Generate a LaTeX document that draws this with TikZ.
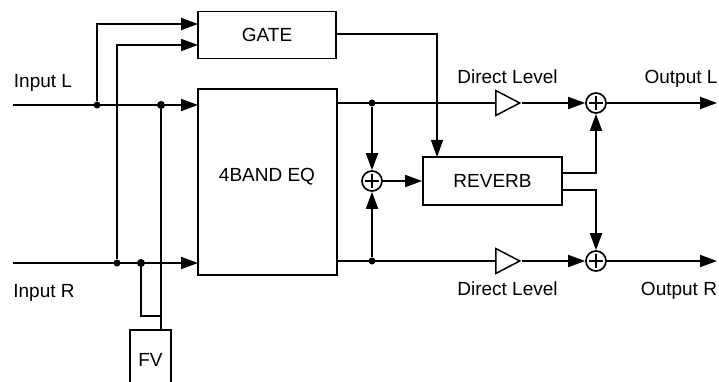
\documentclass[tikz,border=0pt]{standalone}
\usepackage{fontspec}
\setmainfont{Liberation Sans}
\usetikzlibrary{arrows.meta,shapes.geometric}
\tikzset{
  lbl/.style = {inner sep=0pt, anchor=base, font=\fontsize{19}{21}\selectfont},
  block/.style = {draw, line width=1.7pt, fill=white, inner sep=0pt, font=\fontsize{19}{21}\selectfont},
  wire/.style = {line width=1.8pt},
  sig/.style = {line width=1.8pt, -{Triangle[length=17pt,width=12pt]}},
  jdot/.style = {circle, fill=black, inner sep=0pt, minimum size=#1},
  jdot/.default={8pt},
  amp/.style = {isosceles triangle, isosceles triangle stretches, draw, line width=1.5pt,
    shape border rotate=0, inner sep=0pt, minimum width=25pt, minimum height=24pt, anchor=lower side},
  sumnode/.style = {circle, draw, line width=1.7pt, fill=white, inner sep=0pt, minimum size=20pt,
    path picture={
      \draw[line width=1.7pt] (path picture bounding box.center) +(-7pt,0) -- +(7pt,0);
      \draw[line width=1.7pt] (path picture bounding box.center) +(0,-7pt) -- +(0,7pt);
    }}
}
\begin{document}
\begin{tikzpicture}[x=1pt,y=-1pt]
  \useasboundingbox (0,0) rectangle (719,382);

  \node[block, minimum width=138pt, minimum height=47pt] (gate) at (267,35) {GATE};
  \node[block, minimum width=139pt, minimum height=186pt] (eq) at (267.5,182) {};
  \node[lbl] (eqtext) at (267,181) {4BAND EQ};
  \node[block, minimum width=139pt, minimum height=48pt] (reverb) at (492.5,181) {REVERB};
  \node[block, minimum width=41pt, minimum height=60pt, text depth=0pt] (fv) at (150.5,360) {FV};

  \coordinate (inL) at (13,105);
  \coordinate (inR) at (13,263);
  \coordinate (eqL) at (198,105);
  \coordinate (eqR) at (198,263);
  \coordinate (gateA) at (198,24);
  \coordinate (gateB) at (198,45);
  \coordinate (fvjoin) at (161,316);
  \coordinate (fvin) at (161,330);
  \coordinate (eqoutL) at (337,103);
  \coordinate (eqoutR) at (337,261);
  \coordinate (gateout) at (336,34);
  \coordinate (revin) at (437,157);
  \coordinate (revoutA) at (562,173);
  \coordinate (revoutB) at (562,190);
  \coordinate (outL) at (717,103);
  \coordinate (outR) at (717,261);

  \node[jdot=7pt] (dotA) at (97,105) {};
  \node[jdot] (dotB) at (161,105) {};
  \node[jdot=7pt] (dotC) at (117,263) {};
  \node[jdot] (dotD) at (141,263) {};
  \node[jdot=7pt] (dotE) at (372,103) {};
  \node[jdot=7pt] (dotF) at (372,261) {};

  \node[amp] (ampL) at (495,103) {};
  \node[amp] (ampR) at (495,261) {};
  \node[sumnode] (sumL) at (596,103) {};
  \node[sumnode] (sumR) at (596,261) {};
  \node[sumnode] (sumM) at (372,181) {};

  \draw[sig] (inL) -- (eqL);
  \draw[sig] (inR) -- (eqR);
  \draw[sig] (dotA) |- (gateA);
  \draw[sig] (dotC) |- (gateB);
  \draw[wire] (dotB) -- (fvin);
  \draw[wire] (dotD) |- (fvjoin);

  \draw[wire] (eqoutL) -- (ampL.lower side);
  \draw[wire] (eqoutR) -- (ampR.lower side);
  \foreach \s in {L,R}{
    \draw[sig] (amp\s.apex) -- (sum\s);
    \draw[sig] (sum\s) -- (out\s);
  }
  \draw[sig] (dotE) -- (sumM);
  \draw[sig] (dotF) -- (sumM);
  \draw[sig] (sumM) -- (reverb);
  \draw[line width=1.2pt, -{Triangle[length=17pt,width=12pt]}] (gateout) -| (revin);
  \draw[sig] (revoutA) -| (sumL);
  \draw[sig] (revoutB) -| (sumR);

  \node[lbl] (labinL) at (43,88) {Input L};
  \node[lbl] (labinR) at (44,297) {Input R};
  \node[lbl] (labdirL) at (507.5,84) {Direct Level};
  \node[lbl] (labdirR) at (507.5,295) {Direct Level};
  \node[lbl] (laboutL) at (681,84) {Output L};
  \node[lbl] (laboutR) at (679,295) {Output R};
\end{tikzpicture}
\end{document}
